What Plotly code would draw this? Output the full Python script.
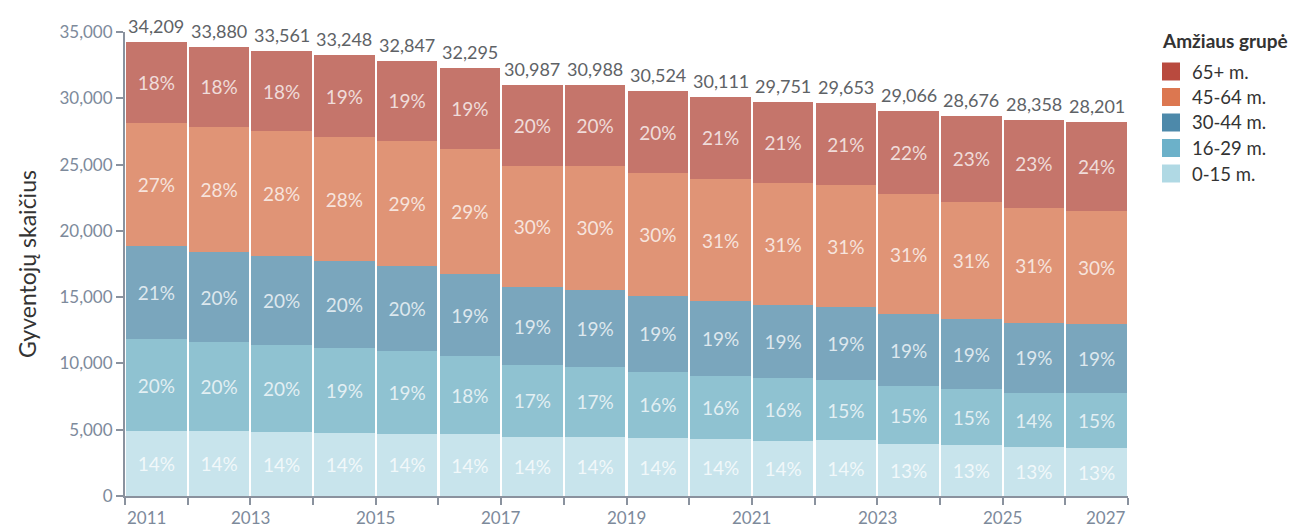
import plotly.graph_objects as go

years = list(range(2011, 2027))
groups = ["0-15 m.", "16-29 m.", "30-44 m.", "45-64 m.", "65+ m."]

age_0_15 = [4888, 4888, 4813, 4760, 4685, 4640, 4480, 4470, 4362, 4264, 4159, 4211, 3900, 3813, 3685, 3610]
age_16_29 = [6918, 6693, 6560, 6370, 6219, 5888, 5400, 5253, 5018, 4820, 4737, 4512, 4395, 4233, 4095, 4136]
age_30_44 = [7017, 6843, 6698, 6595, 6416, 6219, 5859, 5843, 5683, 5610, 5520, 5512, 5414, 5314, 5280, 5241]
age_45_64 = [9279, 9423, 9452, 9355, 9429, 9445, 9191, 9325, 9302, 9220, 9174, 9205, 9077, 8850, 8673, 8543]
age_65p = [6107, 6033, 6038, 6168, 6098, 6103, 6057, 6097, 6159, 6197, 6161, 6213, 6280, 6466, 6625, 6671]

series = [age_0_15, age_16_29, age_30_44, age_45_64, age_65p]
bar_colors = ["#c8e4ec", "#8fc2d1", "#7aa6bd", "#e09476", "#c5756b"]
legend_colors = ["#b0d9e4", "#6cb1c9", "#4d89aa", "#dc7750", "#b94a3e"]

x_tick_vals = list(range(2011, 2028))
x_label_years = list(range(2011, 2028, 2))
y_tick_vals = [0, 5000, 10000, 15000, 20000, 25000, 30000, 35000]

totals = [sum(v) for v in zip(*series)]
xc = [y + 0.5 for y in years]

FONT = "Lato"
TICK_COLOR = "#7d8a9b"
AXIS_COLOR = "#8a929e"

OFF = 8
W, H = 1301 - OFF, 527 - OFF
PL, PR, PT, PB = 125, 1128, 32, 496
ML, MT = PL - OFF, PT - OFF
MR = W + OFF - PR
MB = H + OFF - PB
pw, ph = PR - PL, PB - PT

fig = go.Figure()
for name, vals, col in zip(groups, series, bar_colors):
    pct = [f"{round(v / t * 100)}%" for v, t in zip(vals, totals)]
    fig.add_trace(go.Bar(
        x=xc, y=vals, width=0.965, name=name,
        marker=dict(color=col, line=dict(width=0)),
        text=pct, textposition="inside", insidetextanchor="middle",
        textangle=0, constraintext="none",
        textfont=dict(family=FONT, size=19, color="rgba(255,255,255,0.75)"),
        showlegend=False, hoverinfo="skip",
    ))

annotations = []
for x, t in zip(xc, totals):
    annotations.append(dict(
        x=x, y=t, xref="x", yref="y", text=f"{t:,}", showarrow=False,
        yanchor="bottom", yshift=3,
        font=dict(family=FONT, size=18, color="#5e6266"),
    ))

for yr in x_label_years:
    anchor = "left" if yr == x_tick_vals[0] else ("right" if yr == x_tick_vals[-1] else "center")
    annotations.append(dict(
        x=yr, y=0, xref="x", yref="paper", text=str(yr), showarrow=False,
        xanchor=anchor, yanchor="top", yshift=-9,
        font=dict(family=FONT, size=17, color=TICK_COLOR),
    ))

annotations.append(dict(
    x=0, y=0.5, xref="paper", yref="paper", xshift=-98, textangle=-90,
    text="Gyventojų skaičius", showarrow=False, xanchor="center", yanchor="middle",
    font=dict(family=FONT, size=23, color="#333333"),
))

shapes = []
legend_annots = [dict(px=1160, py=41, text="<b>Amžiaus grupė</b>", size=19)]
legend_order = list(range(len(groups)))[::-1]
for i, gi in enumerate(legend_order):
    cy = 71.5 + i * 25.5
    shapes.append(dict(type="rect", xref="paper", yref="paper",
                       x0=(1162 - PL) / pw, x1=(1180 - PL) / pw,
                       y0=1 - (cy + 9 - PT) / ph, y1=1 - (cy - 9 - PT) / ph,
                       fillcolor=legend_colors[gi], line=dict(width=0)))
    legend_annots.append(dict(px=1190, py=cy, text=groups[gi], size=18.5))

for la in legend_annots:
    annotations.append(dict(
        x=(la["px"] - PL) / pw, y=1 - (la["py"] - PT) / ph, xref="paper", yref="paper",
        text=la["text"], showarrow=False, xanchor="left", yanchor="middle",
        font=dict(family=FONT, size=la["size"], color="#333333"),
    ))

fig.update_layout(
    barmode="stack",
    width=W, height=H,
    margin=dict(l=ML, r=MR, t=MT, b=MB, autoexpand=False),
    paper_bgcolor="white", plot_bgcolor="white",
    font=dict(family=FONT),
    annotations=annotations,
    shapes=shapes,
    xaxis=dict(
        range=[2011, 2027], tickmode="array", tickvals=x_tick_vals, showticklabels=False,
        ticks="outside", ticklen=7, tickwidth=2, tickcolor=AXIS_COLOR,
        showline=True, linecolor=AXIS_COLOR, linewidth=2, showgrid=False, zeroline=False,
        fixedrange=True,
    ),
    yaxis=dict(
        range=[0, 35000], tickmode="array", tickvals=y_tick_vals, tickformat=",d",
        ticks="outside", ticklen=7, tickwidth=2, tickcolor=AXIS_COLOR,
        showline=True, linecolor=AXIS_COLOR, linewidth=2, showgrid=False, zeroline=False,
        tickfont=dict(family=FONT, size=17, color=TICK_COLOR), fixedrange=True,
    ),
)

fig.write_html("out.html")
